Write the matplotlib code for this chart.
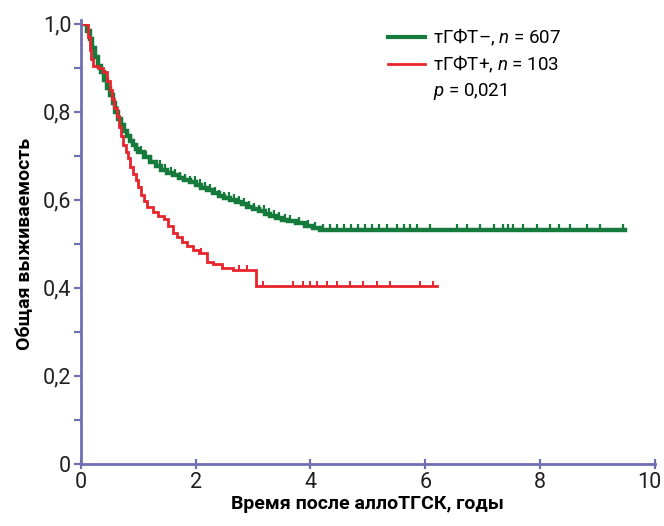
import matplotlib
matplotlib.use("Agg")
import matplotlib.pyplot as plt
import matplotlib.transforms as mtransforms
from matplotlib import font_manager
from matplotlib.path import Path
from matplotlib.lines import Line2D

# данные кривых (оценка по картинке)
green_t = [0, 0.1, 0.15, 0.2, 0.25, 0.3, 0.35, 0.4, 0.45, 0.5, 0.55, 0.6, 0.65, 0.7, 0.75, 0.8,
           0.85, 0.9, 0.95, 1.0, 1.1, 1.2, 1.3, 1.4, 1.5, 1.6, 1.7, 1.8, 1.9, 2.0, 2.1, 2.2, 2.3,
           2.4, 2.5, 2.6, 2.7, 2.8, 2.9, 3.0, 3.1, 3.2, 3.3, 3.4, 3.5, 3.6, 3.75, 3.9, 4.05, 4.16, 9.48]
green_s = [1.0, 0.985, 0.965, 0.945, 0.925, 0.905, 0.89, 0.872, 0.855, 0.838, 0.82, 0.80, 0.785,
           0.77, 0.757, 0.745, 0.735, 0.725, 0.716, 0.709, 0.697, 0.686, 0.677, 0.669, 0.662, 0.656,
           0.65, 0.645, 0.64, 0.634, 0.628, 0.622, 0.616, 0.61, 0.605, 0.6, 0.595, 0.59, 0.585,
           0.579, 0.574, 0.568, 0.563, 0.558, 0.555, 0.552, 0.548, 0.54, 0.536, 0.532, 0.532]
green_cens = [0.52, 0.63, 0.72, 0.81, 0.88, 0.97, 1.05, 1.13, 1.22, 1.31, 1.38, 1.47, 1.56, 1.64,
              1.73, 1.82, 1.9, 1.98, 2.07, 2.16, 2.24, 2.33, 2.41, 2.5, 2.58, 2.67, 2.76, 2.84,
              2.93, 3.02, 3.1, 3.19, 3.28, 3.37, 3.45, 3.55, 3.65, 3.8, 3.95, 4.08,
              4.22, 4.34, 4.46, 4.58, 4.7, 4.83, 4.95, 5.08, 5.2, 5.33, 5.5, 5.63,
              5.73, 5.85, 6.08, 6.55, 6.72, 6.95, 7.2, 7.35, 7.44, 7.53, 7.7, 7.94, 8.17, 8.34,
              8.52, 8.82, 9.04, 9.44]

red_t = [0, 0.12, 0.15, 0.18, 0.21, 0.3, 0.38, 0.45, 0.5, 0.54, 0.58, 0.62, 0.66, 0.7, 0.74, 0.78,
         0.82, 0.86, 0.9, 0.95, 1.0, 1.05, 1.1, 1.15, 1.25, 1.35, 1.45, 1.52, 1.6, 1.68, 1.76, 1.85,
         1.95, 2.05, 2.2, 2.3, 2.45, 2.65, 3.05, 6.2]
red_s = [1.0, 0.97, 0.94, 0.92, 0.905, 0.9, 0.89, 0.87, 0.85, 0.83, 0.81, 0.79, 0.765, 0.745, 0.725,
         0.71, 0.695, 0.675, 0.66, 0.645, 0.63, 0.612, 0.598, 0.585, 0.573, 0.563, 0.557, 0.54, 0.525,
         0.515, 0.505, 0.495, 0.487, 0.48, 0.46, 0.455, 0.445, 0.44, 0.405, 0.405]
red_cens = [2.1, 2.75, 2.9, 3.17, 3.69, 3.87, 3.99, 4.11, 4.29, 4.46, 4.69, 4.91, 5.16, 5.38, 5.91, 6.13]

yticks = [0, 0.2, 0.4, 0.6, 0.8, 1.0]
ytick_labels = ["0", "0,2", "0,4", "0,6", "0,8", "1,0"]
xticks = [0, 2, 4, 6, 8, 10]

names = {f.name for f in font_manager.fontManager.ttflist}
fam = "Liberation Sans Narrow" if "Liberation Sans Narrow" in names else "Roboto"
plt.rcParams["font.family"] = [fam, "DejaVu Sans"]
plt.rcParams["mathtext.fontset"] = "custom"
plt.rcParams["mathtext.it"] = fam + ":italic"
plt.rcParams["mathtext.rm"] = fam

axis_col = "#6f6fb3"
green = "#157a3c"
red = "#e8242c"

fig = plt.figure(figsize=(6.64, 5.26), dpi=100)
ax = fig.add_axes([0.122, 0.118, 0.864, 0.8365])

def step_value(ts, ss, t):
    v = ss[0]
    for ti, si in zip(ts, ss):
        if ti <= t:
            v = si
    return v

tick_marker = Path([(0, 0), (0, 1)])

ax.step(green_t, green_s, where="post", color=green, lw=3.2, solid_joinstyle="miter")
ax.plot(green_cens, [step_value(green_t, green_s, c) for c in green_cens], ls="none",
        marker=tick_marker, ms=8, mew=1.6, color=green)
ax.step(red_t, red_s, where="post", color=red, lw=2.0, solid_joinstyle="miter")
ax.plot(red_cens, [step_value(red_t, red_s, c) for c in red_cens], ls="none",
        marker=tick_marker, ms=7.5, mew=1.4, color=red)

ax.set_xlim(0, 10)
ax.set_ylim(0, 1.0)
ax.set_xticks(xticks)
ax.set_xticklabels([str(x) for x in xticks])
ax.set_yticks(yticks)
ax.set_yticklabels(ytick_labels)
ax.set_yticks([0.1, 0.3, 0.5, 0.7, 0.9], minor=True)

for side in ["top", "right"]:
    ax.spines[side].set_visible(False)
for side in ["left", "bottom"]:
    ax.spines[side].set_color(axis_col)
    ax.spines[side].set_linewidth(2.0)
ax.spines["left"].set_bounds(0, 1.01)
ax.tick_params(axis="both", which="both", colors=axis_col, width=1.6, length=5,
               labelcolor="#231f20", labelsize=15.5, pad=2)
ax.tick_params(axis="x", direction="inout", length=7)

# "10" у правого края немного сдвигаем влево, чтобы не обрезался
last = ax.get_xticklabels()[-1]
last.set_transform(last.get_transform() + mtransforms.ScaledTranslation(-4 / 72, 0, fig.dpi_scale_trans))

ax.set_xlabel("Время после аллоТГСК, годы", fontsize=14, fontweight="bold", labelpad=2)
ax.set_ylabel("Общая выживаемость", fontsize=14, fontweight="bold", labelpad=6)

handles = [Line2D([], [], color=green, lw=3.0),
           Line2D([], [], color=red, lw=2.0),
           Line2D([], [], color="none")]
labels = ["тГФТ–, $n$ = 607", "тГФТ+, $n$ = 103", "$p$ = 0,021"]
ax.legend(handles, labels, loc="upper left", bbox_to_anchor=(0.522, 1.01), frameon=False,
          fontsize=13.5, handlelength=2.0, handletextpad=0.4, labelspacing=0.3, borderaxespad=0)

fig.savefig("out.png", dpi=100)
